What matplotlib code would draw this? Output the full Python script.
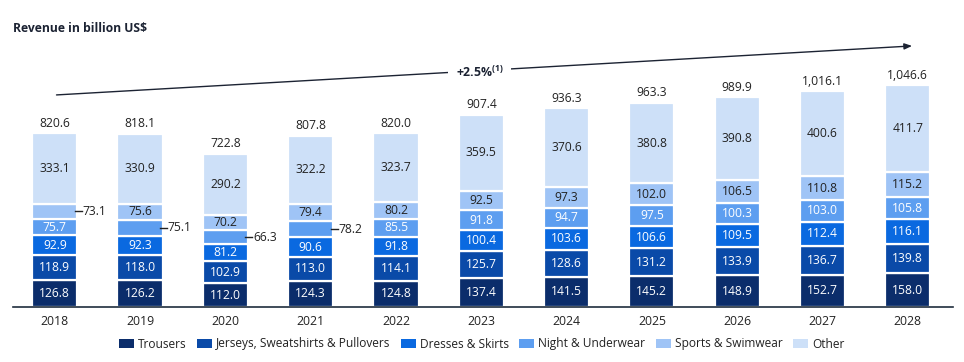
import matplotlib
matplotlib.use("Agg")
import matplotlib.pyplot as plt
from matplotlib.patches import Patch
import numpy as np

plt.rcParams['font.family'] = ['Open Sans', 'DejaVu Sans']

years = ["2018", "2019", "2020", "2021", "2022", "2023", "2024", "2025", "2026", "2027", "2028"]
series_names = ["Trousers", "Jerseys, Sweatshirts & Pullovers", "Dresses & Skirts",
                "Night & Underwear", "Sports & Swimwear", "Other"]
trousers = [126.8, 126.2, 112.0, 124.3, 124.8, 137.4, 141.5, 145.2, 148.9, 152.7, 158.0]
jerseys = [118.9, 118.0, 102.9, 113.0, 114.1, 125.7, 128.6, 131.2, 133.9, 136.7, 139.8]
dresses = [92.9, 92.3, 81.2, 90.6, 91.8, 100.4, 103.6, 106.6, 109.5, 112.4, 116.1]
night = [75.7, 75.1, 66.3, 78.2, 85.5, 91.8, 94.7, 97.5, 100.3, 103.0, 105.8]
sports = [73.1, 75.6, 70.2, 79.4, 80.2, 92.5, 97.3, 102.0, 106.5, 110.8, 115.2]
other = [333.1, 330.9, 290.2, 322.2, 323.7, 359.5, 370.6, 380.8, 390.8, 400.6, 411.7]
totals = ["820.6", "818.1", "722.8", "807.8", "820.0", "907.4", "936.3", "963.3",
          "989.9", "1,016.1", "1,046.6"]
cagr_label = "+2.5%$^{\\mathregular{(1)}}$"

# which segment's label is placed outside the bar (series index), per year
outside = {0: 4, 1: 3, 2: 3, 3: 3}

series = [trousers, jerseys, dresses, night, sports, other]
colors = ["#0b2d6b", "#0a4aa8", "#0a69e0", "#5d9ef0", "#9fc4f6", "#cde0f8"]
label_colors = ["white", "white", "white", "white", "#222222", "#222222"]

VFS = 8.7

fig = plt.figure(figsize=(9.64, 3.62), dpi=100)
ax = fig.add_axes([13 / 964, 55 / 362, 940 / 964, 267 / 362])
x = np.arange(len(years))
ax.set_xlim(-0.49, 10.53)
ax.set_ylim(0, 1259)

width = 0.53
bottom = np.zeros(len(years))
for si, (vals, col) in enumerate(zip(series, colors)):
    vals = np.array(vals)
    ax.bar(x, vals, width, bottom=bottom, color=col, edgecolor="white", linewidth=1.6,
           label=series_names[si], zorder=2)
    for i, v in enumerate(vals):
        yc = bottom[i] + v / 2
        if outside.get(i) == si:
            ax.plot([x[i] + width / 2 - 0.03, x[i] + width / 2 + 0.05], [yc, yc],
                    color="#222222", lw=1, zorder=3, clip_on=False)
            ax.text(x[i] + width / 2 + 0.06, yc, f"{v:.1f}", ha="left", va="center",
                    fontsize=VFS, color="#222222")
        else:
            ax.text(x[i], yc, f"{v:.1f}", ha="center", va="center", fontsize=VFS,
                    color=label_colors[si])
    bottom += vals

for i, t in enumerate(totals):
    ax.annotate(t, (x[i], bottom[i]), xytext=(0, 2.5), textcoords="offset points",
                ha="center", va="bottom", fontsize=VFS, color="#222222")

# CAGR arrow
ax.annotate("", xy=(10.05, 1231), xytext=(0.02, 1000),
            arrowprops=dict(arrowstyle="-|>,head_length=0.45,head_width=0.18",
                            color="#1c2333", lw=1, shrinkA=0, shrinkB=0),
            annotation_clip=False)
ax.text(4.98, 1108, cagr_label, ha="center", va="center", fontsize=8.8,
        fontweight="bold", color="#1c2333",
        bbox=dict(boxstyle="square,pad=0.6", fc="white", ec="none"), zorder=5)

for s in ["top", "right", "left"]:
    ax.spines[s].set_visible(False)
ax.spines["bottom"].set_color("#1f2d3d")
ax.spines["bottom"].set_linewidth(1.2)
ax.set_yticks([])
ax.set_xticks(x)
ax.set_xticklabels(years, fontsize=8.8, color="#222222")
ax.tick_params(axis="x", length=0, pad=6)

fig.text(13 / 964, 1 - 28 / 362, "Revenue in billion US$", fontsize=8.7, fontweight="bold",
         color="#1c2333", va="center", ha="left")

handles = [Patch(facecolor=c, edgecolor="none") for c in colors]
fig.legend(handles, series_names, loc="center left", bbox_to_anchor=(119 / 964, 1 - 344 / 362),
           ncol=6, frameon=False, fontsize=8.6, handlelength=1.26, handleheight=0.8,
           handletextpad=0.35, columnspacing=0.85, labelcolor="#222222", borderaxespad=0,
           borderpad=0)

fig.savefig("out.png", dpi=100)
